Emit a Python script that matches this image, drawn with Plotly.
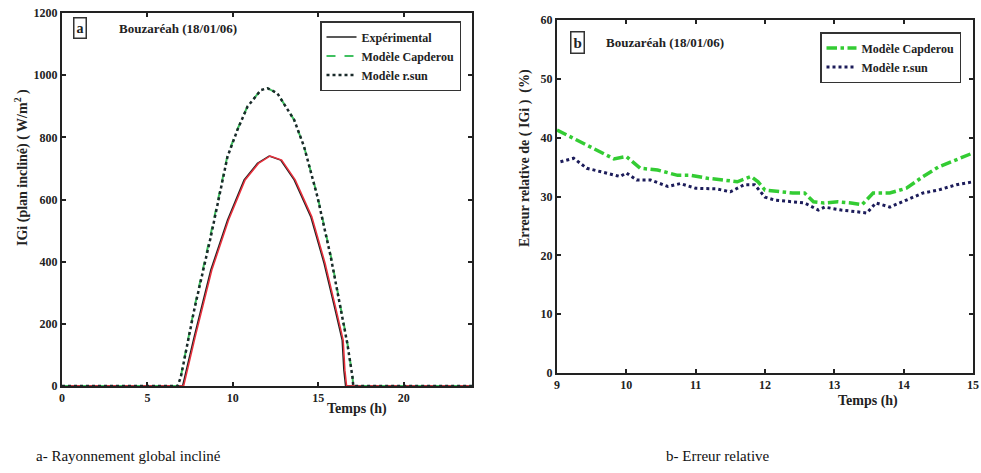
import plotly.graph_objects as go

# ---- Panel a data: global irradiance on tilted plane (W/m2) ----
hours_exp = [0, 3, 6, 7.06, 7.74, 8.71, 9.69, 10.66, 11.44, 12.13, 12.8, 13.59, 14.56, 15.34, 15.9, 16.4, 16.5, 16.6, 18, 21, 24]
igi_exp = [0, 0, 0, 0, 159, 373, 534, 663, 716, 740, 727, 663, 545, 395, 266, 148, 51, 0, 0, 0, 0]

hours_mod = [0, 3, 6, 6.77, 6.96, 7.74, 8.71, 9.69, 10.27, 10.86, 11.64, 12.03, 12.6, 13.59, 14.17, 14.95, 15.73, 16.3, 16.7, 17.0, 17.05, 18, 21, 24]
igi_capderou = [0, 0, 0, 0, 32, 250, 490, 742, 826, 900, 952, 958, 942, 856, 770, 612, 420, 250, 140, 32, 0, 0, 0, 0]
igi_rsun = [0, 0, 0, 0, 30, 245, 480, 738, 824, 899, 952, 958, 942, 856, 770, 609, 416, 245, 137, 30, 0, 0, 0, 0]

# ---- Panel b data: relative error (%) ----
hours_cap = [9.0, 9.28, 9.48, 9.82, 10.0, 10.2, 10.45, 10.74, 10.93, 11.17, 11.4, 11.6, 11.8, 11.9, 12.0, 12.2, 12.4, 12.57, 12.7, 12.85, 13.05, 13.24, 13.4, 13.56, 13.8, 14.04, 14.28, 14.5, 14.76, 15.0]
err_cap = [41.3, 39.6, 38.5, 36.4, 36.8, 34.8, 34.5, 33.6, 33.6, 33.1, 32.8, 32.5, 33.4, 32.5, 31.1, 30.8, 30.6, 30.6, 29.1, 28.9, 29.1, 28.9, 28.6, 30.6, 30.6, 31.4, 33.4, 35.0, 36.2, 37.4]
hours_rsun = [9.05, 9.24, 9.43, 9.72, 9.91, 10.0, 10.15, 10.35, 10.6, 10.78, 11.0, 11.3, 11.5, 11.7, 11.85, 12.0, 12.14, 12.4, 12.57, 12.77, 12.86, 13.1, 13.33, 13.47, 13.6, 13.8, 14.04, 14.28, 14.5, 14.76, 15.0]
err_rsun = [35.9, 36.5, 34.8, 34.0, 33.4, 34.0, 32.8, 32.8, 31.7, 32.2, 31.4, 31.3, 30.8, 32.0, 32.0, 29.9, 29.4, 29.1, 28.9, 27.7, 28.2, 27.7, 27.4, 27.2, 28.9, 28.2, 29.4, 30.6, 31.1, 32.0, 32.5]

W, H = 981, 473
SERIF = "Liberation Serif, Times New Roman, DejaVu Serif, serif"

def px(x):
    return x / W

def py(y):
    return 1 - y / H

fig = go.Figure()

# Panel a
fig.add_trace(go.Scatter(x=hours_exp, y=igi_exp, mode="lines", name="Expérimental",
                         line=dict(color="#222222", width=1.5), legend="legend",
                         xaxis="x", yaxis="y"))
fig.add_trace(go.Scatter(x=[h + 0.06 for h in hours_exp], y=igi_exp, mode="lines", name="Expérimental",
                         line=dict(color="#e8303c", width=1.5), showlegend=False,
                         xaxis="x", yaxis="y"))
fig.add_trace(go.Scatter(x=hours_mod, y=igi_capderou, mode="lines", name="Modèle Capderou",
                         line=dict(color="#40c060", width=2, dash="dash"), legend="legend",
                         xaxis="x", yaxis="y"))
fig.add_trace(go.Scatter(x=hours_mod, y=igi_rsun, mode="lines", name="Modèle r.sun",
                         line=dict(color="#1a2a2a", width=2.5, dash="dot"), legend="legend",
                         xaxis="x", yaxis="y"))

# Panel b
fig.add_trace(go.Scatter(x=hours_cap, y=err_cap, mode="lines", name="Modèle Capderou",
                         line=dict(color="#33cc33", width=3.5, dash="dashdot"), legend="legend2",
                         xaxis="x2", yaxis="y2"))
fig.add_trace(go.Scatter(x=hours_rsun, y=err_rsun, mode="lines", name="Modèle r.sun",
                         line=dict(color="#1c1c5a", width=3, dash="dot"), legend="legend2",
                         xaxis="x2", yaxis="y2"))

tickfont = dict(family=SERIF, size=12, color="#222", weight="bold")
axis_common = dict(showline=True, linecolor="#222", linewidth=2, mirror="ticks",
                   ticks="inside", ticklen=4, tickcolor="#222", tickwidth=1.5,
                   showgrid=False, zeroline=False, tickfont=tickfont)

legfont = dict(family=SERIF, size=12, color="#222", weight="bold")
fig.update_layout(
    width=W, height=H,
    margin=dict(l=0, r=0, t=0, b=0, autoexpand=False),
    paper_bgcolor="white", plot_bgcolor="white",
    xaxis=dict(domain=[px(62), px(472)], range=[0, 24], tickvals=[0, 5, 10, 15, 20],
               anchor="y", **axis_common),
    yaxis=dict(domain=[py(386), py(13)], range=[0, 1200], dtick=200,
               anchor="x", **axis_common),
    xaxis2=dict(domain=[px(557), px(973)], range=[9, 15], dtick=1,
                anchor="y2", **axis_common),
    yaxis2=dict(domain=[py(373), py(20)], range=[0, 60], dtick=10,
                anchor="x2", **axis_common),
    legend=dict(x=px(320), y=py(21), xref="container", yref="container",
                xanchor="left", yanchor="top",
                bgcolor="white", bordercolor="#333", borderwidth=1.5,
                font=legfont, tracegroupgap=0, itemwidth=30),
    legend2=dict(x=px(820), y=py(32), xref="container", yref="container",
                 xanchor="left", yanchor="top",
                 bgcolor="white", bordercolor="#333", borderwidth=1.5,
                 font=legfont, tracegroupgap=0, itemwidth=30),
    showlegend=True,
)

ann_font = dict(family=SERIF, size=13, color="#222", weight="bold")
anns = [
    dict(x=px(80), y=py(28), text="a", font=dict(family=SERIF, size=14, color="#222", weight="bold"),
         bordercolor="#333", borderwidth=1.5, borderpad=2),
    dict(x=px(178), y=py(28), text="Bouzaréah (18/01/06)", font=ann_font),
    dict(x=px(577), y=py(42), text="b", font=dict(family=SERIF, size=15, color="#222", weight="bold"),
         bordercolor="#333", borderwidth=1.5, borderpad=2),
    dict(x=px(665), y=py(42), text="Bouzaréah (18/01/06)", font=ann_font),
    dict(x=px(357), y=py(409), text="Temps (h)", font=dict(family=SERIF, size=14, color="#222", weight="bold")),
    dict(x=px(868), y=py(401), text="Temps (h)", font=dict(family=SERIF, size=14, color="#222", weight="bold")),
    dict(x=px(21), y=py(168), text="IGi (plan incliné) ( W/m<sup>2</sup> )", textangle=-90,
         font=dict(family=SERIF, size=14, color="#222", weight="bold")),
    dict(x=px(525), y=py(158), text="Erreur relative de ( IGi )  (%)", textangle=-90,
         font=dict(family=SERIF, size=14, color="#222", weight="bold")),
    dict(x=px(128), y=py(456), text="a- Rayonnement global incliné",
         font=dict(family="Liberation Serif, Times New Roman, serif", size=15, color="#111", weight="normal")),
    dict(x=px(718), y=py(456), text="b- Erreur relative",
         font=dict(family="Liberation Serif, Times New Roman, serif", size=15, color="#111", weight="normal")),
]
for a in anns:
    a.update(xref="paper", yref="paper", showarrow=False, xanchor="center", yanchor="middle")
fig.update_layout(annotations=anns)

fig.write_html("out.html", config={"displayModeBar": False},
               post_script="document.body.style.margin='0';document.body.style.overflow='hidden';")
